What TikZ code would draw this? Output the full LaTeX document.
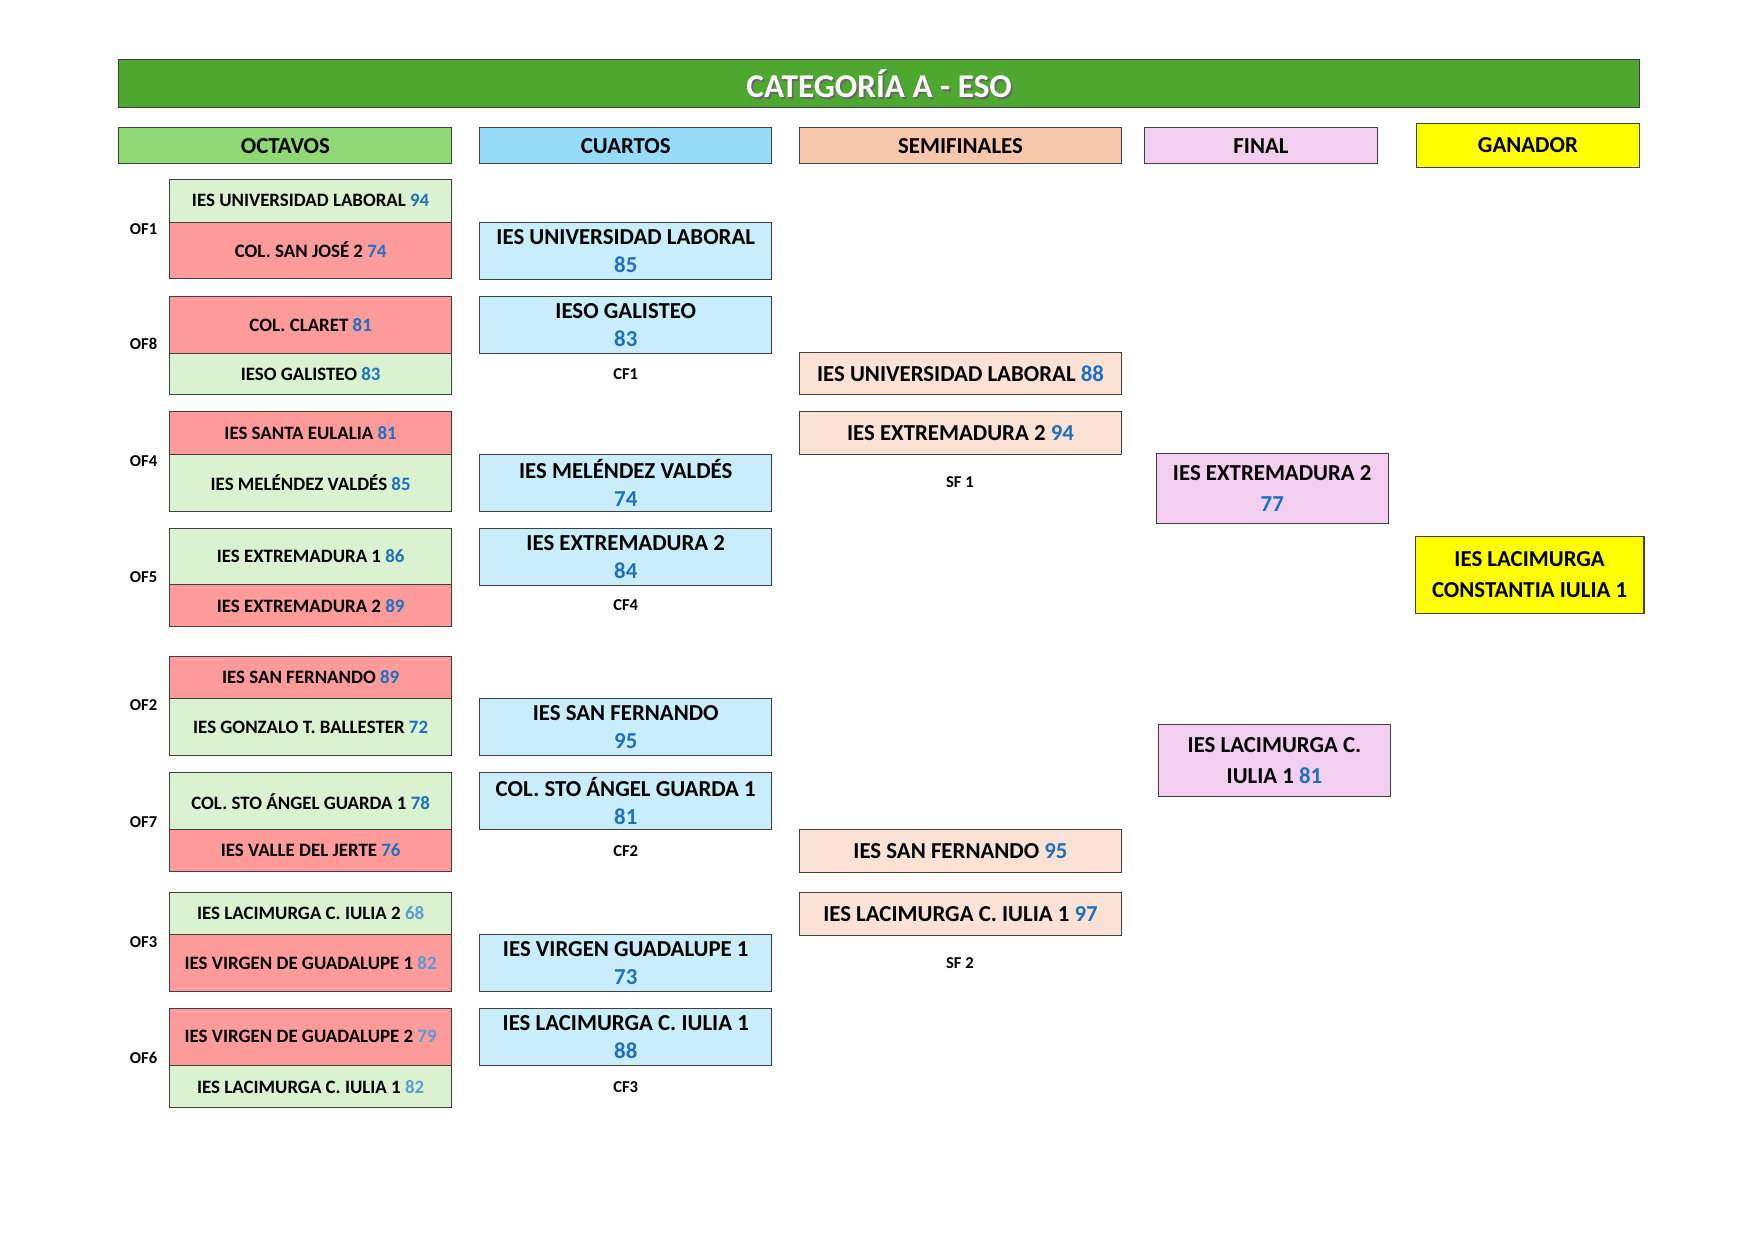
\documentclass[tikz,border=0pt]{standalone}
\usepackage{fontspec}
\setmainfont{Carlito}
\usetikzlibrary{positioning}
\usetikzlibrary{calc}

\definecolor{titlegreen}{HTML}{4EA72E}
\definecolor{octhead}{HTML}{8ED973}
\definecolor{cuahead}{HTML}{94DCF8}
\definecolor{semhead}{HTML}{F7C7AC}
\definecolor{finpink}{HTML}{F2CEEF}
\definecolor{ofgreen}{HTML}{DAF2D0}
\definecolor{ofred}{HTML}{FF9B9B}
\definecolor{cfblue}{HTML}{CAEDFB}
\definecolor{sfpeach}{HTML}{FBE2D5}
\definecolor{ptsblue}{HTML}{1F70BF}
\definecolor{ptslight}{HTML}{5B9BD5}
\definecolor{ganyellow}{HTML}{FFFF00}

\def\px{0.018978cm}

\begin{document}
\begin{tikzpicture}[x=0.018978cm, y=-0.018978cm,
  cell/.style={draw=black!75, line width=0.5pt, inner sep=0pt, outer sep=0pt,
    anchor=north west, align=center, font=\bfseries},
  head/.style={cell, font=\bfseries\fontsize{11}{13}\selectfont},
  ofwin/.style={cell, fill=ofgreen},
  oflose/.style={cell, fill=ofred},
  rlabel/.style={font=\bfseries\fontsize{8}{9.5}\selectfont},
  big/.style={font=\bfseries\fontsize{11}{13.5}\selectfont}
]
  \useasboundingbox[fill=white] (0,0) rectangle (1565,1107);

  % title bar
  \node[cell, fill=titlegreen, minimum width=1356*\px, minimum height=43*\px] (title) at (106,53) {};
  \node[text=black!60, font=\bfseries\fontsize{16}{18}\selectfont] (titleshadow) at ($(title.center)+(1.5,1.5)$) {CATEGORÍA A - ESO};
  \node[text=white, font=\bfseries\fontsize{16}{18}\selectfont] (titletext) at (title.center) {CATEGORÍA A - ESO};

  % round headers
  \node[head, fill=octhead, minimum width=297*\px, minimum height=32*\px] (hoct) at (106,114) {OCTAVOS};
  \node[head, fill=cuahead, minimum width=260*\px, minimum height=32*\px] (hcua) at (428,114) {CUARTOS};
  \node[head, fill=semhead, minimum width=287*\px, minimum height=32*\px] (hsem) at (713,114) {SEMIFINALES};
  \node[head, fill=finpink, minimum width=207*\px, minimum height=32*\px] (hfin) at (1021,114) {FINAL};
  \node[head, fill=ganyellow, minimum width=199*\px, minimum height=39*\px] (hgan) at (1263,110) {GANADOR};

  % octavos
  \foreach \n/\y/\h/\kind/\team/\score/\sc in {
    of1a/160/38/ofwin/IES UNIVERSIDAD LABORAL/94/ptsblue,
    of1b/198/50/oflose/COL. SAN JOSÉ 2/74/ptsblue,
    of8a/264/51/oflose/COL. CLARET/81/ptsblue,
    of8b/315/37/ofwin/IESO GALISTEO/83/ptsblue,
    of4a/367/38/oflose/IES SANTA EULALIA/81/ptsblue,
    of4b/405/51/ofwin/IES MELÉNDEZ VALDÉS/85/ptsblue,
    of5a/471/50/ofwin/IES EXTREMADURA 1/86/ptsblue,
    of5b/521/38/oflose/IES EXTREMADURA 2/89/ptsblue,
    of2a/585/38/oflose/IES SAN FERNANDO/89/ptsblue,
    of2b/623/51/ofwin/IES GONZALO T. BALLESTER/72/ptsblue,
    of7a/689/51/ofwin/COL. STO ÁNGEL GUARDA 1/78/ptsblue,
    of7b/740/37/oflose/IES VALLE DEL JERTE/76/ptsblue,
    of3a/796/37/ofwin/IES LACIMURGA C. IULIA 2/68/ptslight,
    of3b/833/51/oflose/IES VIRGEN DE GUADALUPE 1/82/ptslight,
    of6a/899/51/oflose/IES VIRGEN DE GUADALUPE 2/79/ptslight,
    of6b/950/38/ofwin/IES LACIMURGA C. IULIA 1/82/ptslight}
  {
    \node[\kind, minimum width=252*\px, minimum height=\h*\px,
      font=\bfseries\fontsize{9.1}{11}\selectfont] (\n) at (151,\y) {\team{} \textcolor{\sc}{\score}};
  }
  \foreach \n/\y in {1/204, 8/307, 4/411, 5/515, 2/629, 7/733, 3/840, 6/943}
    \node[rlabel] (lof\n) at (128,\y) {OF\n};

  % cuartos
  \foreach \n/\y/\team/\score in {
    cf1a/198/IES UNIVERSIDAD LABORAL/85,
    cf1b/264/IESO GALISTEO/83,
    cf4a/405/IES MELÉNDEZ VALDÉS/74,
    cf4b/471/IES EXTREMADURA 2/84,
    cf2a/623/IES SAN FERNANDO/95,
    cf2b/689/COL. STO ÁNGEL GUARDA 1/81,
    cf3a/833/IES VIRGEN GUADALUPE 1/73,
    cf3b/899/IES LACIMURGA C. IULIA 1/88}
  {
    \node[cell, big, fill=cfblue, minimum width=260*\px, minimum height=51*\px] (\n) at (428,\y)
      {\team\\\textcolor{ptsblue}{\score}};
  }
  \foreach \n/\y in {1/334, 4/540, 2/759, 3/969}
    \node[rlabel] (lcf\n) at (558,\y) {CF\n};

  % semifinales
  \foreach \n/\y/\team/\score in {
    sf1a/314/IES UNIVERSIDAD LABORAL/88,
    sf1b/367/IES EXTREMADURA 2/94,
    sf2a/740/IES SAN FERNANDO/95,
    sf2b/796/IES LACIMURGA C. IULIA 1/97}
  {
    \node[cell, big, fill=sfpeach, minimum width=287*\px, minimum height=38*\px] (\n) at (713,\y)
      {\team{} \textcolor{ptsblue}{\score}};
  }
  \node[rlabel] (lsf1) at (856,430) {SF 1};
  \node[rlabel] (lsf2) at (856,859) {SF 2};

  % final
  \node[cell, fill=finpink, font=\bfseries\fontsize{11}{15}\selectfont,
    minimum width=207*\px, minimum height=63*\px] (fa) at (1031,404)
    {IES EXTREMADURA 2\\\textcolor{ptsblue}{77}};
  \node[cell, fill=finpink, font=\bfseries\fontsize{11}{15}\selectfont,
    minimum width=207*\px, minimum height=64*\px] (fb) at (1033,646)
    {IES LACIMURGA C.\\IULIA 1 \textcolor{ptsblue}{81}};

  % ganador
  \node[cell, fill=ganyellow, font=\bfseries\fontsize{11}{14.6}\selectfont,
    minimum width=204*\px, minimum height=69*\px] (gan) at (1262,478)
    {IES LACIMURGA\\CONSTANTIA IULIA 1};
\end{tikzpicture}
\end{document}
